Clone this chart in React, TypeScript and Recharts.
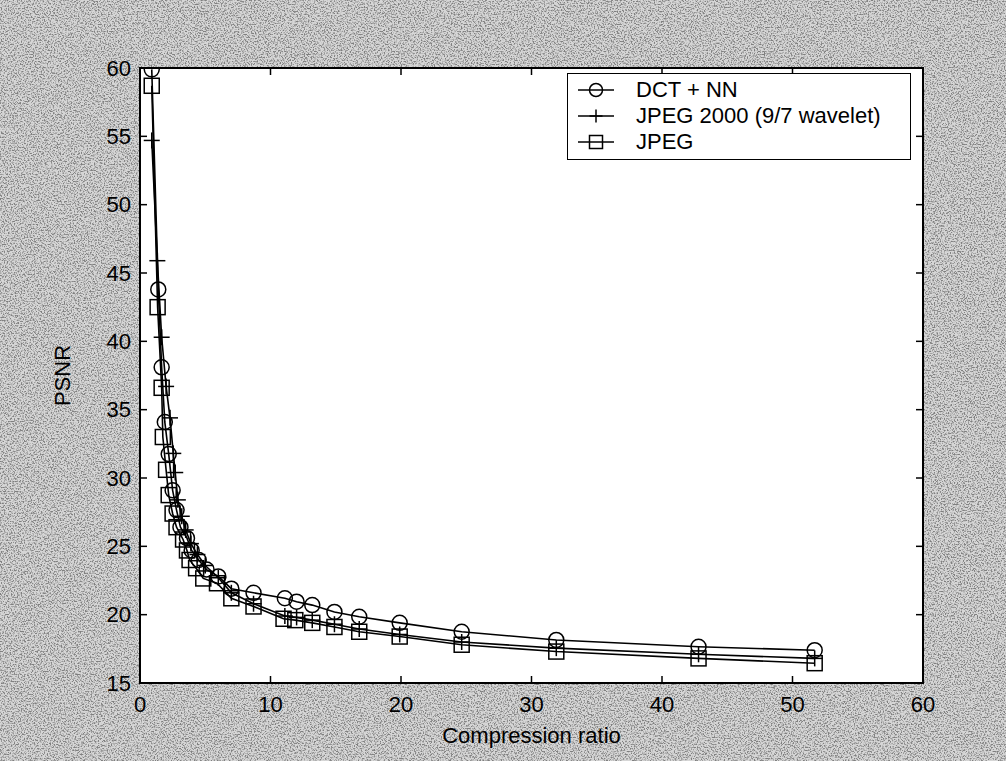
import React from "react";
import { LineChart, Line, XAxis, YAxis, Legend, Label } from "recharts";

// compression ratio (x) and PSNR (y)
const dctX = [0.9, 1.4, 1.66, 1.9, 2.2, 2.5, 2.8, 3.1, 3.6, 3.96, 4.5, 5.1, 6.0, 7.0, 8.7, 11.1, 12.0, 13.2, 14.9, 16.8, 19.9, 24.65, 31.9, 42.8, 51.7];
const dctY = [59.9, 43.8, 38.1, 34.1, 31.75, 29.1, 27.65, 26.4, 25.6, 24.7, 24.0, 23.3, 22.8, 21.9, 21.6, 21.2, 20.95, 20.7, 20.2, 19.85, 19.4, 18.75, 18.15, 17.65, 17.4];

const j2kX = [0.9, 1.33, 1.66, 2.0, 2.3, 2.55, 2.7, 2.9, 3.2, 3.5, 3.9, 4.4, 5.0, 6.0, 7.0, 8.7, 11.1, 12.0, 13.2, 14.9, 16.8, 19.9, 24.65, 31.9, 42.8, 51.7];
const j2kY = [54.7, 45.9, 40.3, 36.7, 34.4, 31.8, 30.4, 28.4, 27.2, 26.2, 25.2, 24.4, 23.6, 22.7, 21.6, 20.8, 19.9, 19.8, 19.6, 19.3, 18.95, 18.55, 18.0, 17.55, 17.1, 16.8];

const jpegX = [0.9, 1.35, 1.66, 1.75, 2.0, 2.2, 2.5, 2.8, 3.3, 3.6, 3.8, 4.3, 4.85, 5.9, 7.0, 8.7, 11.0, 11.9, 13.2, 14.9, 16.8, 19.9, 24.65, 31.9, 42.8, 51.7];
const jpegY = [58.7, 42.5, 36.6, 33.0, 30.6, 28.75, 27.4, 26.4, 25.5, 24.7, 24.0, 23.4, 22.65, 22.3, 21.2, 20.6, 19.7, 19.6, 19.4, 19.1, 18.75, 18.4, 17.8, 17.3, 16.8, 16.45];

const xTicks = [0, 10, 20, 30, 40, 50, 60];
const yTicks = [15, 20, 25, 30, 35, 40, 45, 50, 55, 60];

const seriesNames = ["DCT + NN", "JPEG 2000 (9/7 wavelet)", "JPEG"];

const toPoints = (xs: number[], ys: number[]) => xs.map((x, i) => ({ x, y: ys[i] }));
const dctData = toPoints(dctX, dctY);
const j2kData = toPoints(j2kX, j2kY);
const jpegData = toPoints(jpegX, jpegY);

// figure layout (matlab-ish axes box)
const W = 1006;
const H = 761;
const PL = 140;
const PT = 68;
const PR = 923;
const PB = 683;
const TICK = 7;
const FONT = "'Liberation Sans', Arial, Helvetica, sans-serif";
const FS = 22;

function CircleMark({ cx, cy, r = 7.5 }: any) {
  return <circle cx={cx} cy={cy} r={r} fill="none" stroke="#000" strokeWidth={1.5} />;
}
function PlusMark({ cx, cy, s = 8 }: any) {
  return (
    <g>
      <line x1={cx - s} x2={cx + s} y1={cy} y2={cy} stroke="#000" strokeWidth={1.5} />
      <line x1={cx} x2={cx} y1={cy - s} y2={cy + s} stroke="#000" strokeWidth={1.5} />
    </g>
  );
}
function SquareMark({ cx, cy, s = 7.5 }: any) {
  return <rect x={cx - s} y={cy - s} width={s * 2} height={s * 2} fill="none" stroke="#000" strokeWidth={1.5} />;
}

const marks = [CircleMark, PlusMark, SquareMark];

function XTick({ x, payload }: any) {
  return (
    <g>
      <line x1={x} x2={x} y1={PB} y2={PB - TICK} stroke="#000" strokeWidth={1.5} />
      <line x1={x} x2={x} y1={PT} y2={PT + TICK} stroke="#000" strokeWidth={1.5} />
      <text x={x} y={PB + 21} textAnchor="middle" dominantBaseline="central" fontFamily={FONT} fontSize={FS} fill="#000">
        {payload.value}
      </text>
    </g>
  );
}

function YTick({ y, payload }: any) {
  return (
    <g>
      <line x1={PL} x2={PL + TICK} y1={y} y2={y} stroke="#000" strokeWidth={1.5} />
      <line x1={PR - TICK} x2={PR} y1={y} y2={y} stroke="#000" strokeWidth={1.5} />
      <text x={PL - 9} y={y} textAnchor="end" dominantBaseline="central" fontFamily={FONT} fontSize={FS} fill="#000">
        {payload.value}
      </text>
    </g>
  );
}

function LegendBox() {
  return (
    <div
      style={{
        background: "#fff",
        border: "1.5px solid #000",
        padding: "3px 0 4px 0",
        fontFamily: FONT,
        fontSize: FS,
        color: "#000",
      }}
    >
      {seriesNames.map((name, i) => {
        const Mark = marks[i];
        return (
          <div key={name} style={{ display: "flex", alignItems: "center", height: 26 }}>
            <svg width={60} height={22} style={{ flex: "none" }}>
              <line x1={10} x2={46} y1={11} y2={11} stroke="#000" strokeWidth={1.5} />
              <Mark cx={28} cy={11} r={6.5} s={6.5} />
            </svg>
            <span style={{ marginLeft: 8, lineHeight: "26px" }}>{name}</span>
          </div>
        );
      })}
    </div>
  );
}

// scanned-paper speckle behind the figure
function Paper() {
  return (
    <svg width={W} height={H} style={{ position: "absolute", left: 0, top: 0 }}>
      <filter id="speck">
        <feTurbulence type="fractalNoise" baseFrequency="0.7" numOctaves={2} seed={7} />
        <feColorMatrix type="matrix" values="0 0 0 0 0  0 0 0 0 0  0 0 0 0 0  -4 0 0 0 2.2" />
      </filter>
      <rect width={W} height={H} fill="#d6d6d6" />
      <rect width={W} height={H} filter="url(#speck)" opacity={0.4} />
    </svg>
  );
}

export default function App() {
  const datasets = [dctData, j2kData, jpegData];
  return (
    <div style={{ position: "absolute", left: 0, top: 0, width: W, height: H, background: "#c8c8c8", overflow: "hidden" }}>
      <Paper />
      <div
        style={{
          position: "absolute",
          left: PL - 1,
          top: PT - 1,
          width: PR - PL + 2,
          height: PB - PT + 2,
          boxSizing: "border-box",
          border: "2px solid #000",
          background: "#fff",
        }}
      />
      <LineChart width={W} height={H} margin={{ top: PT, right: W - PR, bottom: 0, left: 0 }}>
        <XAxis
          type="number"
          dataKey="x"
          domain={[0, 60]}
          ticks={xTicks}
          interval={0}
          allowDataOverflow
          height={H - PB}
          axisLine={false}
          tickLine={false}
          tick={<XTick />}
        >
          <Label
            value="Compression ratio"
            position="insideBottom"
            offset={18}
            style={{ fontFamily: FONT, fontSize: FS, fill: "#000" }}
          />
        </XAxis>
        <YAxis
          type="number"
          domain={[15, 60]}
          ticks={yTicks}
          interval={0}
          allowDataOverflow
          width={PL}
          axisLine={false}
          tickLine={false}
          tick={<YTick />}
        >
          <Label
            value="PSNR"
            angle={-90}
            position="insideLeft"
            offset={62}
            style={{ fontFamily: FONT, fontSize: FS, fill: "#000", textAnchor: "middle" }}
          />
        </YAxis>
        <Legend
          layout="horizontal"
          verticalAlign="middle"
          align="center"
          content={() => <LegendBox />}
          wrapperStyle={{ left: 567, top: 73, width: 344 }}
        />
        {datasets.map((d, i) => {
          const Mark = marks[i];
          return (
            <Line
              key={seriesNames[i]}
              data={d}
              dataKey="y"
              name={seriesNames[i]}
              type="linear"
              stroke="#000"
              strokeWidth={1.6}
              isAnimationActive={false}
              dot={(p: any) => <Mark key={`${i}-${p.index}`} cx={p.cx} cy={p.cy} />}
              activeDot={false}
            />
          );
        })}
      </LineChart>
    </div>
  );
}
